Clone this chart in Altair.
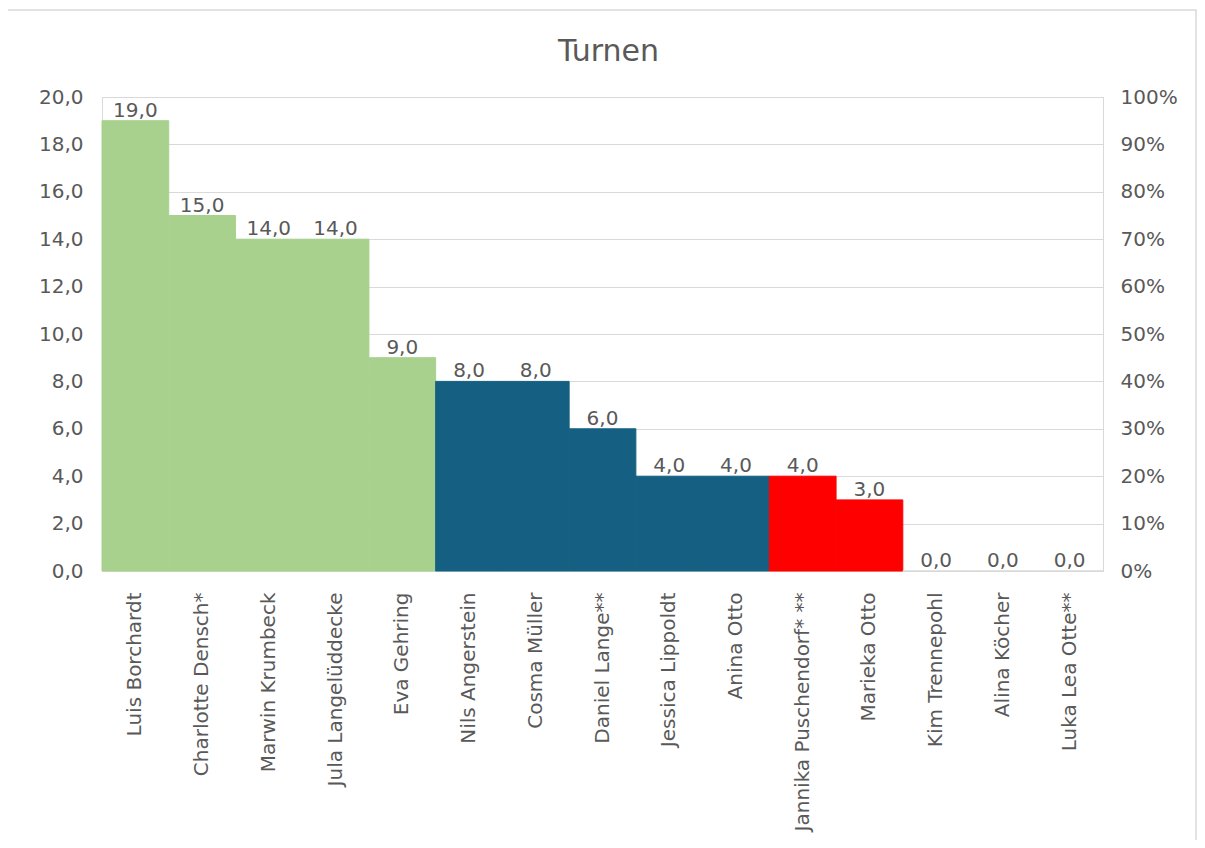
import altair as alt
import pandas as pd

names = ["Luis Borchardt", "Charlotte Densch*", "Marwin Krumbeck", "Jula Langelüddecke",
         "Eva Gehring", "Nils Angerstein", "Cosma Müller", "Daniel Lange**",
         "Jessica Lippoldt", "Anina Otto", "Jannika Puschendorf* **", "Marieka Otto",
         "Kim Trennepohl", "Alina Köcher", "Luka Lea Otte**"]
values = [19, 15, 14, 14, 9, 8, 8, 6, 4, 4, 4, 3, 0, 0, 0]
groups = ["A"] * 5 + ["B"] * 5 + ["C"] * 2 + ["D"] * 3
group_colors = ["#A9D18E", "#156082", "#FF0000", "#D9D9D9"]
left_ticks = [0, 2, 4, 6, 8, 10, 12, 14, 16, 18, 20]
right_ticks = [0, 0.1, 0.2, 0.3, 0.4, 0.5, 0.6, 0.7, 0.8, 0.9, 1.0]
title_text = "Turnen"

df = pd.DataFrame({"name": names, "value": values, "group": groups})

FONT = "DejaVu Sans"
GRAY = "#595959"
GRID = "#D9D9D9"
W, H = 1001, 474
FS = 20
num_expr = "replace(format(datum.value, '.1f'), '.', ',')"

base = alt.Chart(df)

x_enc = alt.X("name:N", sort=None,
              scale=alt.Scale(paddingInner=0, paddingOuter=0),
              axis=alt.Axis(title=None, labelAngle=-90, ticks=False, tickSize=0,
                            domain=False, labelPadding=21, labelLimit=400))

color_scale = alt.Scale(domain=["A", "B", "C", "D"], range=group_colors)

bars = base.mark_bar(strokeWidth=1).encode(
    x=x_enc,
    y=alt.Y("value:Q", scale=alt.Scale(domain=[0, 20], nice=False),
            axis=alt.Axis(title=None, values=left_ticks, labelExpr=num_expr,
                          ticks=False, tickSize=0, domain=False, grid=True,
                          gridColor=GRID, labelPadding=19)),
    color=alt.Color("group:N", scale=color_scale, legend=None),
    stroke=alt.Stroke("group:N", scale=color_scale, legend=None),
)

labels = base.transform_calculate(label=num_expr).mark_text(
    baseline="alphabetic", dy=-4, fontSize=FS, font=FONT, color=GRAY
).encode(
    x=alt.X("name:N", sort=None),
    y=alt.Y("value:Q", scale=alt.Scale(domain=[0, 20], nice=False)),
    text="label:N",
)

right = base.transform_calculate(zero="0").mark_point(opacity=0).encode(
    y=alt.Y("zero:Q", scale=alt.Scale(domain=[0, 1], nice=False),
            axis=alt.Axis(orient="right", title=None, values=right_ticks, format=".0%",
                          ticks=False, tickSize=0, domain=False, grid=False, labelPadding=17)),
)

frame = alt.Chart(alt.Data(values=[{"t": title_text}])).mark_rect(
    fillOpacity=0, stroke=GRID, strokeWidth=1.5
).encode(x=alt.value(-95), x2=alt.value(1094), y=alt.value(-87), y2=alt.value(900))

title = alt.Chart(alt.Data(values=[{"t": title_text}])).mark_text(
    fontSize=30, font=FONT, color=GRAY, baseline="alphabetic", align="center"
).encode(x=alt.value(W / 2 + 6), y=alt.value(-36), text="t:N")

chart = alt.layer(frame, title, alt.layer(bars, labels), right).resolve_scale(
    y="independent"
).properties(
    width=W, height=H,
    autosize=alt.AutoSizeParams(type="none"),
    padding={"left": 94, "top": 89, "right": 94, "bottom": 269},
).configure_view(stroke=GRID, strokeWidth=1).configure_axis(
    labelFont=FONT, labelColor=GRAY, labelFontSize=FS
)

chart.save("out.html", embed_options={"renderer": "svg", "actions": False})
